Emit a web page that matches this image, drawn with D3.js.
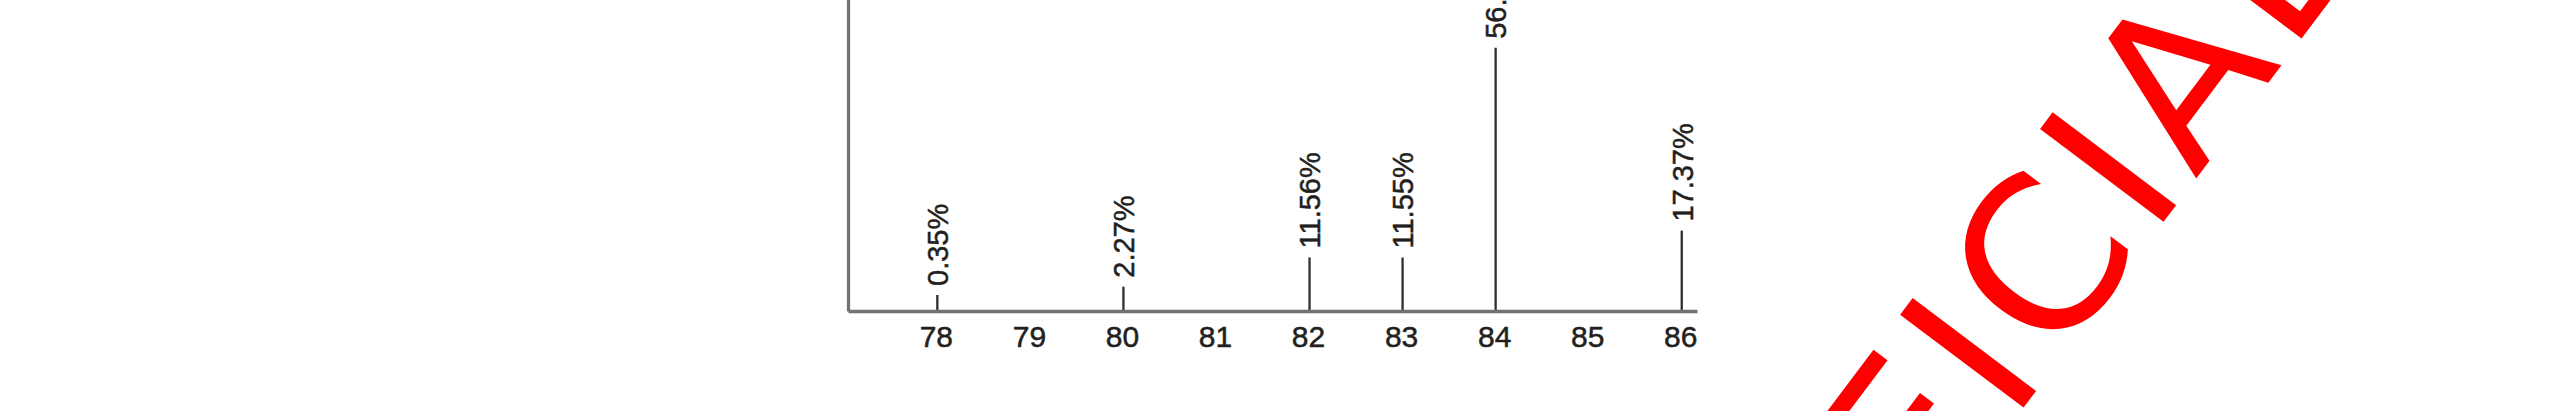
<!DOCTYPE html>
<html>
<head>
<meta charset="utf-8">
<script src="https://cdn.jsdelivr.net/npm/d3@7"></script>
<style>
  html, body { margin: 0; padding: 0; background: #ffffff; }
  svg { display: block; }
</style>
</head>
<body>
<svg id="chart" width="2550" height="411"></svg>
<script>
// ---- data ----
const massNumbers = [78, 80, 82, 83, 84, 86];
const abundances = [0.35, 2.27, 11.56, 11.55, 56.90, 17.37];
const xTicks = [78, 79, 80, 81, 82, 83, 84, 85, 86];
const watermarkText = "UNOFFICIAL";

// ---- layout ----
const W = 2550, H = 411;
const svg = d3.select("#chart");
svg.append("rect").attr("width", W).attr("height", H).attr("fill", "#ffffff");

const x = d3.scaleLinear().domain([77.04, 86.164]).range([848, 1697]);
// broken (piecewise) vertical scale: small peaks are lifted for visibility
const y = d3.scaleLinear()
  .domain([0, 0.35, 2.27, 11.55, 70])
  .range([311, 295, 286.7, 257.5, -12.8]);

const ink = "#231f20";
const axisGray = "#727272";
const fontFam = "'Liberation Sans', Arial, sans-serif";

// stems
svg.append("g").selectAll("line")
  .data(massNumbers.map((m, i) => ({ m, v: abundances[i] })))
  .join("line")
  .attr("x1", d => x(d.m)).attr("x2", d => x(d.m))
  .attr("y1", y(0)).attr("y2", d => y(d.v))
  .attr("stroke", "#2e2e2e").attr("stroke-width", 2.3);

// value labels (rotated)
svg.append("g").selectAll("text")
  .data(massNumbers.map((m, i) => ({ m, v: abundances[i] })))
  .join("text")
  .attr("transform", d => `translate(${x(d.m) + 10.8},${y(d.v) - 9}) rotate(-90)`)
  .attr("text-anchor", "start")
  .attr("font-family", fontFam)
  .attr("font-size", 29)
  .attr("fill", ink)
  .attr("stroke", ink).attr("stroke-width", 0.5)
  .text(d => d3.format(".2f")(d.v) + "%");

// x axis
const xAxis = d3.axisBottom(x).tickValues(xTicks).tickSize(0).tickSizeOuter(0)
  .tickFormat(d3.format("d"));
const gx = svg.append("g").attr("transform", `translate(0,${y(0)})`).call(xAxis);
gx.select(".domain").attr("stroke", axisGray).attr("stroke-width", 3.6);
gx.selectAll(".tick text")
  .attr("y", 35.5).attr("dy", null).attr("dx", -1.5)
  .attr("font-family", fontFam).attr("font-size", 30).attr("fill", ink)
  .attr("stroke", ink).attr("stroke-width", 0.5);

// y axis (no ticks, only the line)
const yAxis = d3.axisLeft(y).tickValues([]).tickSizeOuter(0);
const gy = svg.append("g").attr("transform", `translate(${x.range()[0]},0)`).call(yAxis);
gy.select(".domain").attr("stroke", axisGray).attr("stroke-width", 3.2);

// watermark
const fs = 212;
const wm = svg.append("text")
  .attr("font-family", "'DejaVu Sans', Verdana, sans-serif")
  .attr("font-size", fs)
  .attr("letter-spacing", 11)
  .attr("fill", "#ff0000")
  .attr("x", 0).attr("y", 0)
  .text(watermarkText);
const idx = 7; // the "I" in "...CIAL"
const s = wm.node().getStartPositionOfChar(idx).x;
const e = wm.node().getEndPositionOfChar(idx).x;
const cx = (s + e) / 2 - 5.5, cy = -0.729 * fs / 2;
const ang = -53, rad = ang * Math.PI / 180;
const tx = 2108 - (cx * Math.cos(rad) - cy * Math.sin(rad));
const ty = 167 - (cx * Math.sin(rad) + cy * Math.cos(rad));
wm.attr("transform", `translate(${tx},${ty}) rotate(${ang})`);
</script>
</body>
</html>
